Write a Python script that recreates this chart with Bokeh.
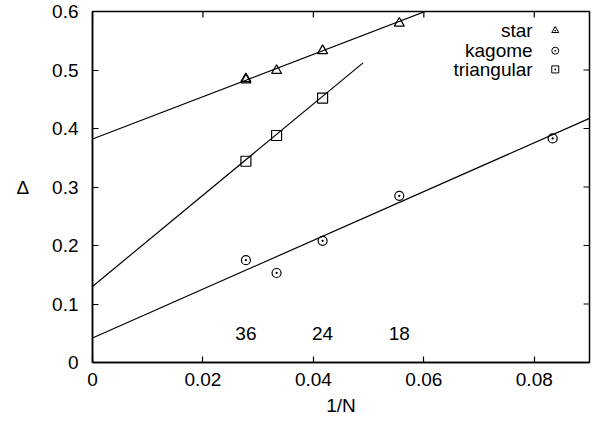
from bokeh.plotting import figure
from bokeh.models import FixedTicker, CustomJSTickFormatter, Range1d
from bokeh.core.properties import value
from bokeh.embed import file_html
from bokeh.resources import INLINE

FONT = "Liberation Sans"

# data: x = 1/N
star_x = [1/36, 1/36, 1/30, 1/24, 1/18]
star_y = [0.483, 0.485, 0.499, 0.533, 0.580]
kagome_x = [1/36, 1/30, 1/24, 1/18, 1/12]
kagome_y = [0.175, 0.153, 0.208, 0.285, 0.383]
tri_x = [1/36, 1/30, 1/24]
tri_y = [0.344, 0.388, 0.452]

# linear fits: intercept, slope, x-extent
star_fit = (0.382, 3.62, 0.09)
kagome_fit = (0.042, 4.17, 0.09)
tri_fit = (0.130, 7.80, 0.049)

size_labels = ["36", "24", "18"]
size_label_x = [1/36, 1/24, 1/18]
size_label_y = [0.05, 0.05, 0.05]

x_ticks = [0, 0.02, 0.04, 0.06, 0.08]
y_ticks = [0, 0.1, 0.2, 0.3, 0.4, 0.5, 0.6]

legend_names = ["star", "kagome", "triangular"]
legend_markers = ["triangle_dot", "circle_dot", "square_dot"]

XMAX, YMAX = 0.09, 0.6

p = figure(width=598, height=428, output_backend="svg", toolbar_location=None,
           x_range=Range1d(0, XMAX), y_range=Range1d(0, YMAX),
           min_border_left=92, min_border_right=9, min_border_top=11, min_border_bottom=66)
p.background_fill_color = "white"
p.border_fill_color = "white"
p.grid.visible = False
p.outline_line_color = "black"
p.outline_line_width = 1.5

fmt = CustomJSTickFormatter(code="return String(Number(tick.toFixed(4)));")

for ax in p.xaxis + p.yaxis:
    ax.major_tick_in = 6
    ax.major_tick_out = 0
    ax.minor_tick_line_color = None
    ax.axis_line_width = 1.5
    ax.major_tick_line_width = 1.2
    ax.major_label_text_font = FONT
    ax.major_label_text_font_size = "19px"
    ax.major_label_text_color = "black"
    ax.axis_label_text_font = FONT
    ax.axis_label_text_font_size = "19px"
    ax.axis_label_text_font_style = "normal"
    ax.axis_label_text_color = "black"
    ax.formatter = fmt

p.xaxis.ticker = FixedTicker(ticks=x_ticks)
p.yaxis.ticker = FixedTicker(ticks=y_ticks)
p.xaxis.axis_label = "1/N"
p.yaxis.axis_label = "Δ"
p.yaxis.axis_label_orientation = "horizontal"
p.xaxis.major_label_standoff = 10
p.xaxis.axis_label_standoff = 6
p.yaxis.major_label_standoff = 14
p.yaxis.axis_label_standoff = 20

# mirrored inward ticks on top and right edges (6 px long)
tick_dx = 6 * XMAX / 497
tick_dy = 6 * YMAX / 351
p.segment(x0=x_ticks, y0=[YMAX] * len(x_ticks), x1=x_ticks,
          y1=[YMAX - tick_dy] * len(x_ticks), line_color="black", line_width=1.2)
p.segment(x0=[XMAX] * len(y_ticks), y0=y_ticks, x1=[XMAX - tick_dx] * len(y_ticks),
          y1=y_ticks, line_color="black", line_width=1.2)

# fit lines
for a, b, xm in (star_fit, kagome_fit, tri_fit):
    xs = [0, xm]
    ys = [a + b * x for x in xs]
    p.line(xs, ys, line_color="black", line_width=1.2)

# data points
p.scatter(star_x, star_y, marker="triangle", size=10, fill_color=None,
          line_color="black", line_width=1.2)
p.scatter(kagome_x, kagome_y, marker="circle_dot", size=9, fill_color=None,
          line_color="black", line_width=1.2)
p.scatter(tri_x, tri_y, marker="square", size=10, fill_color=None,
          line_color="black", line_width=1.2)

# system size labels
p.text(size_label_x, size_label_y, text=size_labels, text_font=value(FONT),
       text_font_size="19px", text_align="center", text_baseline="middle",
       text_color="black")

# legend (gnuplot style: text then marker)
leg_text_x = [0.0797] * 3
leg_mark_x = [0.0838] * 3
leg_y = [0.5675, 0.533, 0.501]
p.text(leg_text_x, leg_y, text=legend_names, text_font=value(FONT),
       text_font_size="19px", text_align="right", text_baseline="middle",
       text_color="black")
for mx, my, mk in zip(leg_mark_x, leg_y, legend_markers):
    p.scatter([mx], [my], marker=mk, size=7, fill_color=None,
              line_color="black", line_width=1)

open("out.html", "w").write(file_html(p, INLINE))
